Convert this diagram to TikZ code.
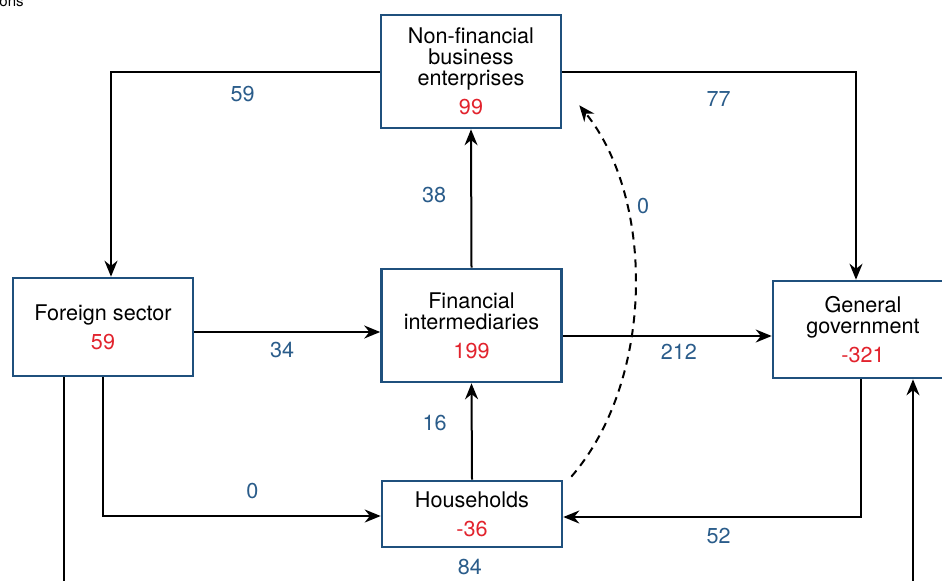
\documentclass[tikz,border=0pt]{standalone}
\usepackage{fontspec}
\setmainfont{TeX Gyre Heros}
\usetikzlibrary{arrows.meta}
\definecolor{boxblue}{RGB}{31,80,125}
\definecolor{numblue}{RGB}{42,92,138}
\definecolor{numred}{RGB}{226,35,45}

\begin{document}
\begin{tikzpicture}[x=0.5pt, y=-0.5pt]
    % Define styles
    \tikzstyle{sector} = [rectangle, minimum width=90pt, align=center, draw=boxblue, line width=1.3pt, fill=white, font=\fontsize{10.8}{10.5}\selectfont]
    \tikzstyle{flow} = [inner sep=0pt, text=numblue, font=\fontsize{10.8}{10.5}\selectfont]
    \tikzstyle{arrow} = [line width=1pt, -{Stealth[length=8pt, width=6.5pt]}]

    \useasboundingbox (0,0) rectangle (942,580);

    % Nodes
    \node (unit) [anchor=base east, inner sep=0pt, font=\fontsize{7.5}{9}\selectfont] at (24,6) {ons};
    \node (nfbe) [sector, minimum height=56.5pt] at (471,71.5) {Non-financial\\business\\enterprises\\[4pt]\textcolor{numred}{99}};
    \node (fs) [sector, minimum height=49pt] at (103,327) {Foreign sector\\[4pt]\textcolor{numred}{59}};
    \node (fi) [sector, minimum height=56.5pt] at (471.5,325.5) {Financial\\intermediaries\\[4pt]\textcolor{numred}{199}};
    \node (gg) [sector, minimum height=48.5pt] at (863,329.5) {General\\government\\[4pt]\textcolor{numred}{-321}};
    \node (hh) [sector, minimum height=33pt] at (472,514) {Households\\[4pt]\textcolor{numred}{-36}};
    \coordinate (loopL) at (64,592);
    \coordinate (loopR) at (913,592);

    % Arrows
    \draw [arrow] (nfbe.west) -| node[flow, pos=0.255, below=7pt] {59} ([xshift=4pt]fs.north);
    \draw [arrow] (nfbe.east) -| node[flow, pos=0.266, below=9.4pt] {77} ([xshift=-3.5pt]gg.north);
    \draw [arrow] (fi.north) -- node[flow, pos=0.525, left=12pt] {38} (nfbe.south);
    \draw [arrow] ([yshift=-2.5pt]fs.east) -- node[flow, pos=0.472, below=4.65pt] {34} ([yshift=-3.25pt]fi.west);
    \draw [arrow] ([yshift=-5.25pt]fi.east) -- node[flow, pos=0.556, below=3.65pt] {212} ([yshift=-3.25pt]gg.west);
    \draw [arrow] (hh.north) -- node[flow, pos=0.586, left=12pt] {16} (fi.south);
    \draw [arrow] (fs.south) |- node[flow, pos=0.769, above=8.15pt] {0} ([yshift=-1pt]hh.west);
    \draw [arrow] ([xshift=-1pt]gg.south) |- node[flow, pos=0.739, below=5.15pt] {52} ([yshift=-1.5pt]hh.east);
    \draw [arrow, dash pattern=on 4pt off 3pt] ([shift={(8,-3)}]hh.north east) .. controls (655,380) and (655,199) .. ([shift={(17,-24)}]nfbe.south east) node[flow] at (643,206) {0};
    \draw [arrow] (fs.south -| loopL) -- (loopL) -- node[flow, pos=0.478, above=8.15pt] {84} (loopR) -- (gg.south -| loopR);
\end{tikzpicture}
\end{document}
